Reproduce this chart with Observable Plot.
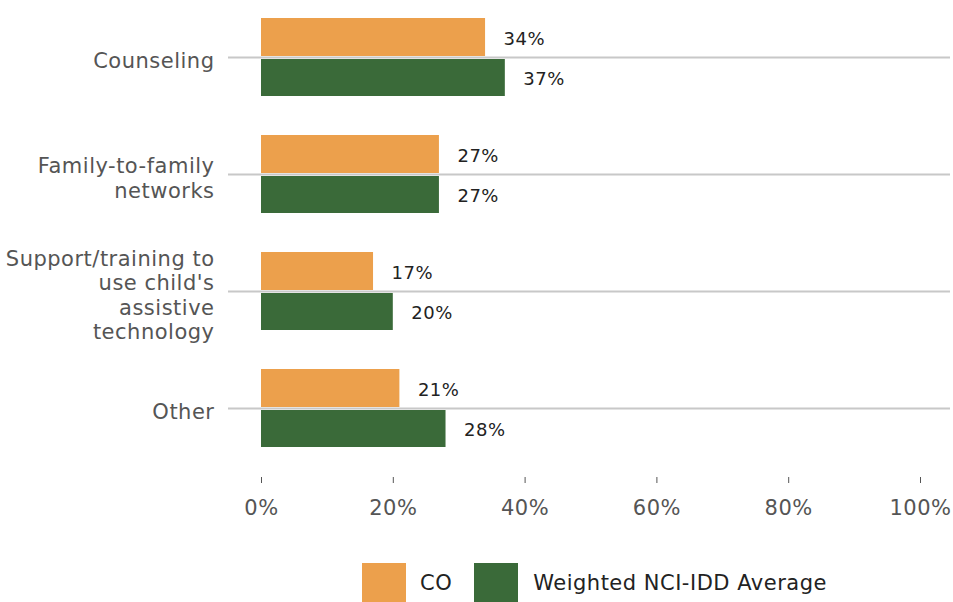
<!DOCTYPE html>
<html>
<head>
<meta charset="utf-8">
<script src="https://cdn.jsdelivr.net/npm/d3@7"></script>
<script src="https://cdn.jsdelivr.net/npm/@observablehq/plot@0.6"></script>
<style>
  body { margin: 0; background: #fff; font-family: "DejaVu Sans", sans-serif; }
  #legend { display: flex; align-items: center; margin-left: 362px; margin-top: 23px; font-size: 21px; letter-spacing: 0.5px; color: #222; }
  #legend .sw { width: 44px; height: 40px; display: inline-block; }
  #legend span.lbl0 { margin-left: 14px; margin-right: 22px; }
  #legend span.lbl1 { margin-left: 15px; }
  #chart svg text { letter-spacing: 0.5px; }
</style>
</head>
<body>
<div id="chart"></div>
<script>
const categories = ["Counseling", "Family-to-family networks", "Support/training to use child's assistive technology", "Other"];
const tickLabels = ["Counseling", "Family-to-family\nnetworks", "Support/training to\nuse child's\nassistive\ntechnology", "Other"];
const coValues = [0.34, 0.27, 0.17, 0.21];
const nciValues = [0.37, 0.27, 0.20, 0.28];
const seriesNames = ["CO", "Weighted NCI-IDD Average"];
const seriesColors = ["#eca04c", "#3a6a39"];
const xTicks = [0, 0.2, 0.4, 0.6, 0.8, 1.0];

const coData = categories.map((c, i) => ({category: c, value: coValues[i]}));
const nciData = categories.map((c, i) => ({category: c, value: nciValues[i]}));
const labelOf = new Map(categories.map((c, i) => [c, tickLabels[i]]));

const plot = Plot.plot({
  width: 953,
  height: 540,
  marginLeft: 261,
  marginRight: 33,
  marginTop: 0,
  marginBottom: 63,
  style: {fontFamily: "'DejaVu Sans', sans-serif", fontSize: "21px", background: "#fff"},
  x: {domain: [0, 1], axis: null},
  y: {domain: categories, range: [-13, 477], paddingInner: 1/3, paddingOuter: 30/117, axis: null},
  marks: [
    Plot.ruleY(categories, {y: d => d, stroke: "#c8c8c8", strokeWidth: 2, insetLeft: -33, insetRight: -30}),
    Plot.barX(coData, {x: "value", y: "category", fill: seriesColors[0], insetBottom: 40}),
    Plot.barX(nciData, {x: "value", y: "category", fill: seriesColors[1], insetTop: 41}),
    Plot.text(coData, {x: "value", y: "category", text: d => d3.format(".0%")(d.value), textAnchor: "start", dx: 18, dy: -18, fill: "#222", fontSize: 18}),
    Plot.text(nciData, {x: "value", y: "category", text: d => d3.format(".0%")(d.value), textAnchor: "start", dx: 18, dy: 22, fill: "#222", fontSize: 18}),
    Plot.axisY({label: null, tickSize: 0, tickPadding: 47, fontSize: 21, lineHeight: 1.17, color: "#555", dy: 3, tickFormat: d => labelOf.get(d)}),
    Plot.axisX({label: null, ticks: xTicks, tickSize: 6, tickPadding: 17, fontSize: 21, color: "#555", tickFormat: d3.format(".0%")})
  ]
});
document.getElementById("chart").appendChild(plot);

const legend = document.createElement("div");
legend.id = "legend";
seriesNames.forEach((name, i) => {
  const sw = document.createElement("span");
  sw.className = "sw";
  sw.style.background = seriesColors[i];
  const lbl = document.createElement("span");
  lbl.className = "lbl" + i;
  lbl.textContent = name;
  legend.appendChild(sw);
  legend.appendChild(lbl);
});
document.body.appendChild(legend);
</script>
</body>
</html>
